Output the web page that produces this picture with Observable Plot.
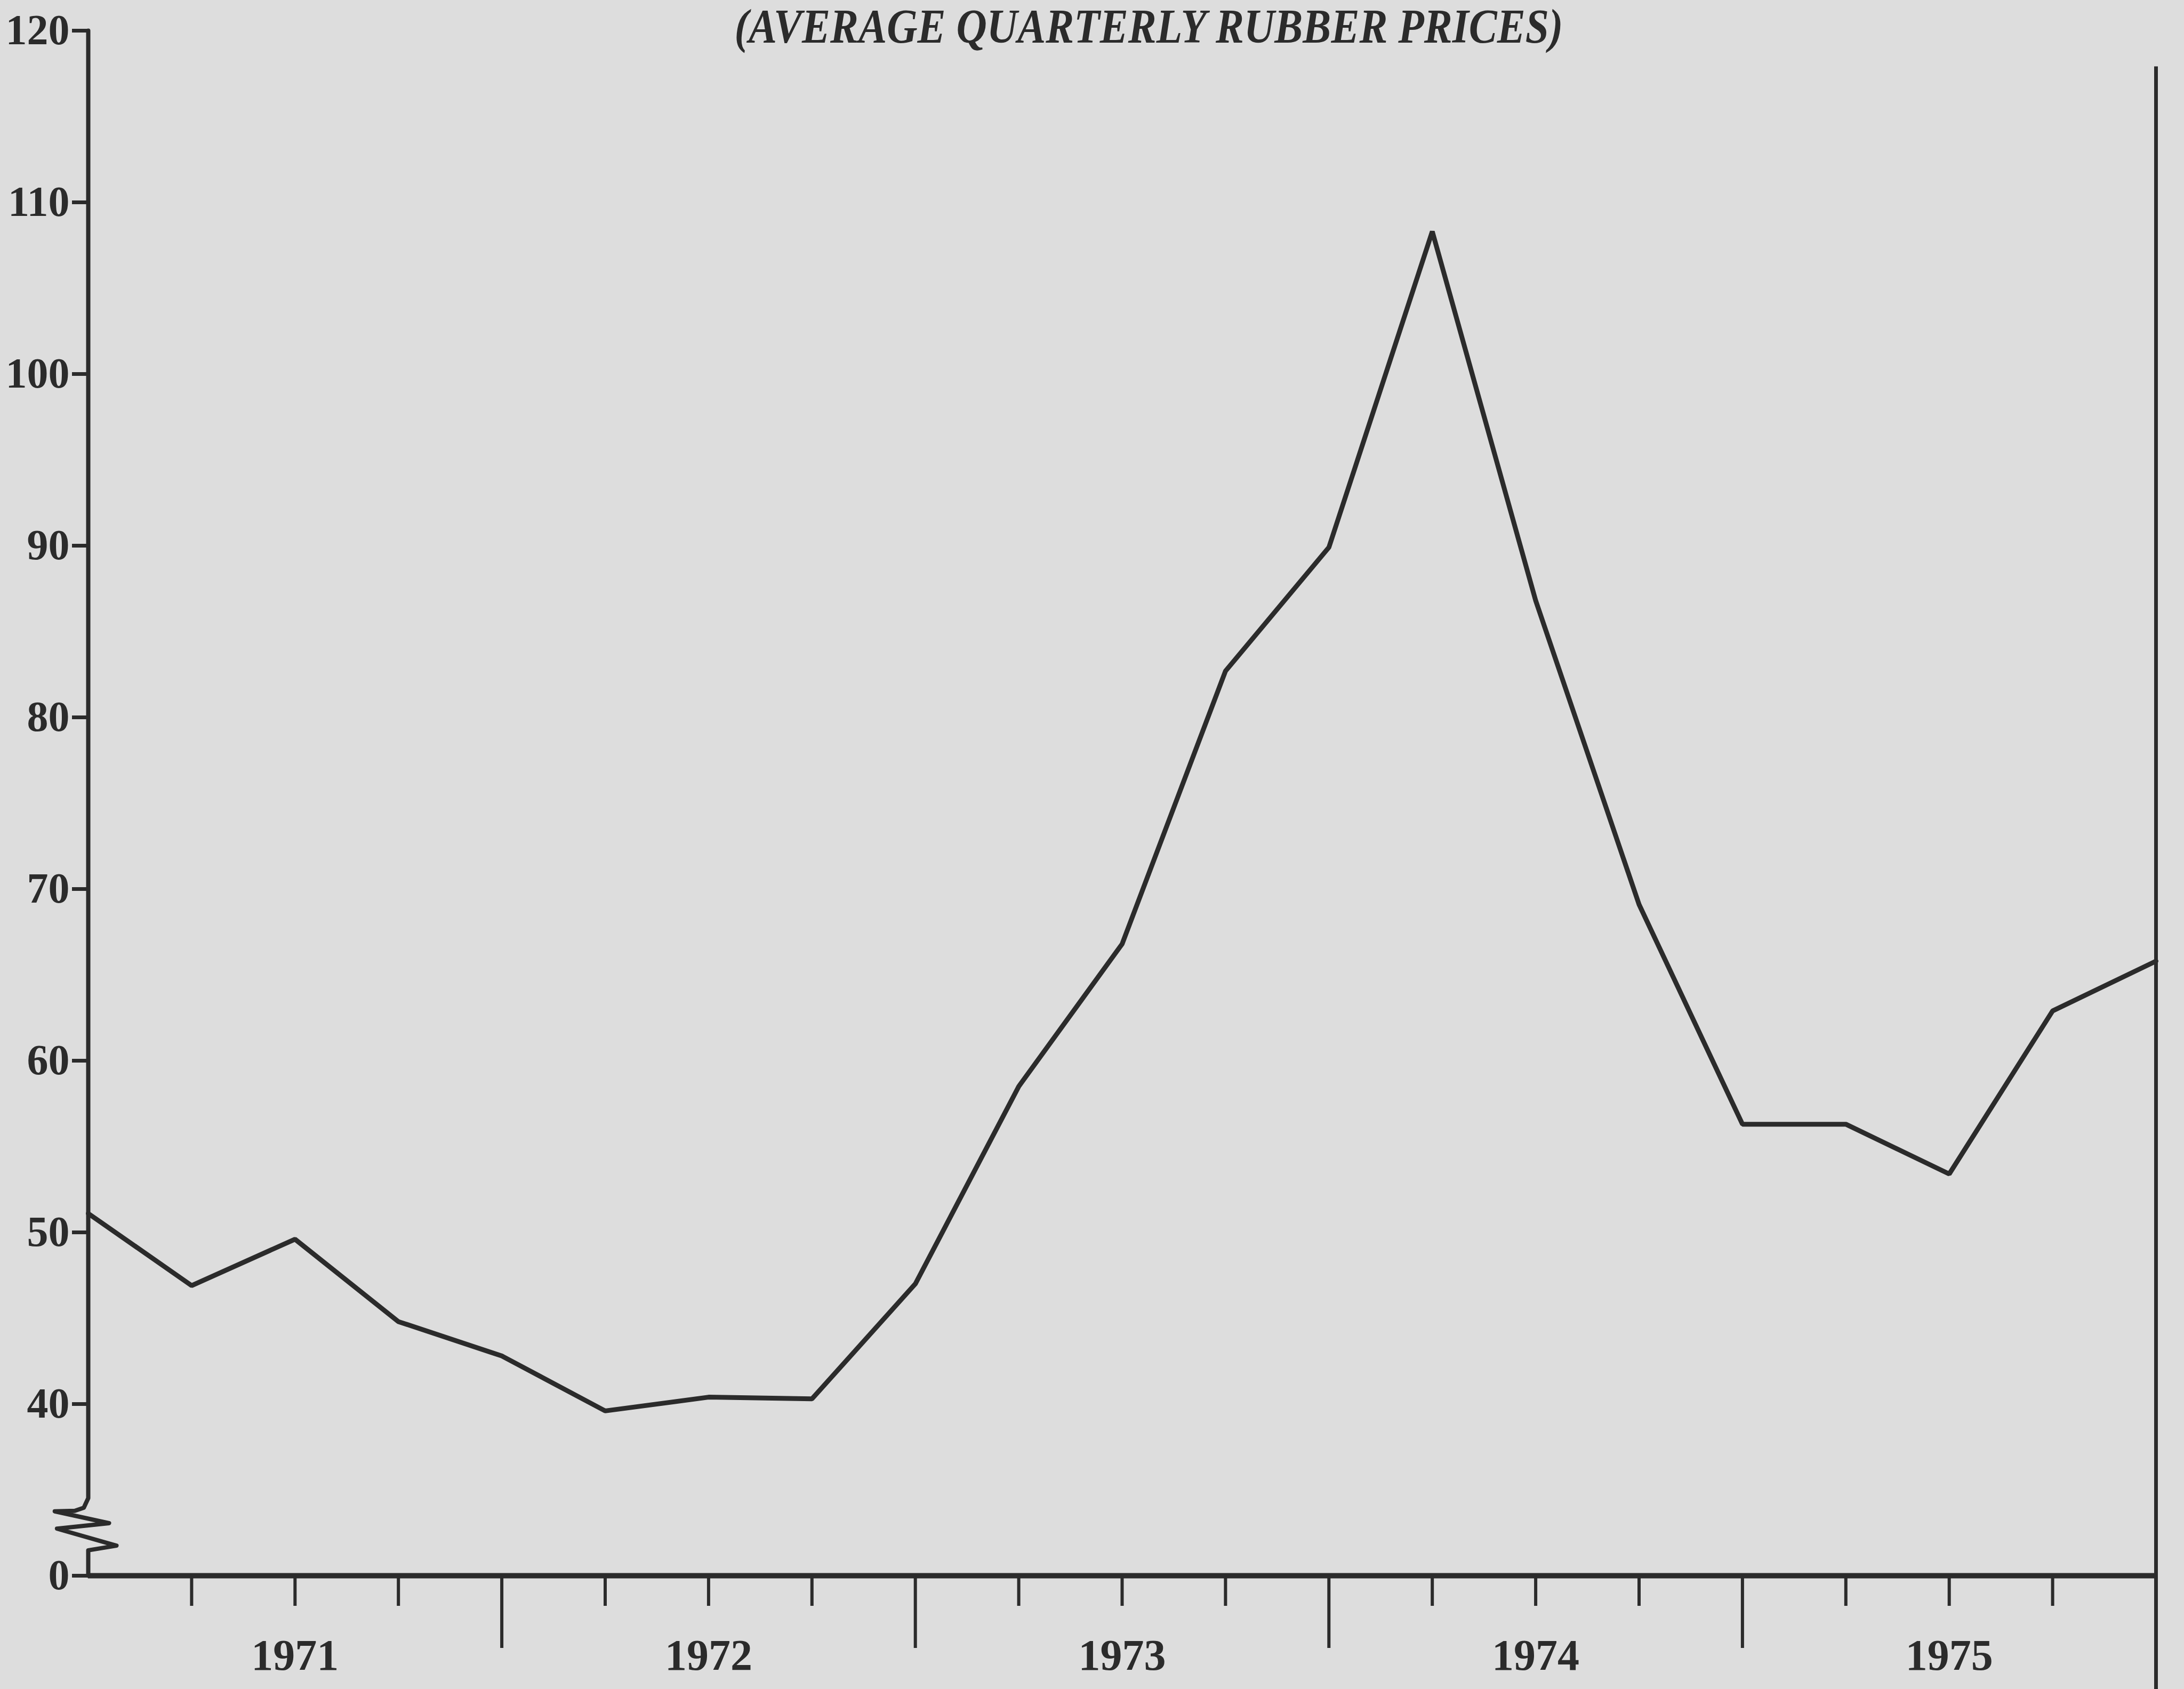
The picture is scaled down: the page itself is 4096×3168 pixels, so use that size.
<!DOCTYPE html>
<html>
<head>
<meta charset="utf-8">
<script src="https://cdn.jsdelivr.net/npm/d3@7"></script>
<script src="https://cdn.jsdelivr.net/npm/@observablehq/plot@0.6"></script>
<style>
  html, body { margin: 0; padding: 0; background: #dddddd; }
  #chart svg { display: block; }
</style>
</head>
<body>
<div id="chart"></div>
<script>
// ---- data ----
const title = "(AVERAGE QUARTERLY RUBBER PRICES)";
const quarters = [1971, 1971.25, 1971.5, 1971.75, 1972, 1972.25, 1972.5, 1972.75,
                  1973, 1973.25, 1973.5, 1973.75, 1974, 1974.25, 1974.5, 1974.75,
                  1975, 1975.25, 1975.5, 1975.75, 1976];
const prices = [51.1, 46.9, 49.6, 44.8, 42.8, 39.6, 40.4, 40.3,
                47.0, 58.5, 66.8, 82.7, 89.9, 108.3, 86.8, 69.1,
                56.3, 56.3, 53.4, 62.9, 65.8];
// the y axis is broken: the tick drawn at 30 stands for 0
const yTicks = [30, 40, 50, 60, 70, 80, 90, 100, 110, 120];
const yTickLabels = ["0", "40", "50", "60", "70", "80", "90", "100", "110", "120"];
const quarterTicks = [1971.25, 1971.5, 1971.75, 1972.25, 1972.5, 1972.75,
                      1973.25, 1973.5, 1973.75, 1974.25, 1974.5, 1974.75,
                      1975.25, 1975.5, 1975.75];
const yearTicks = [1972, 1973, 1974, 1975];
const yearLabels = ["1971", "1972", "1973", "1974", "1975"];
const yearLabelPos = [1971.5, 1972.5, 1973.5, 1974.5, 1975.5];
// y axis line with its break symbol (data units)
const axisPathX = [1971, 1971, 1970.9892, 1970.9676, 1970.919, 1971.0503, 1970.9244, 1971.0683, 1971, 1971];
const axisPathY = [120, 34.52, 33.96, 33.78, 33.75, 33.06, 32.74, 31.75, 31.48, 30];
const frameRightTop = 117.9;
const frameRightBottom = 20;

const ink = "#2b2b2b";
const paper = "#dddddd";

const chart = Plot.plot({
  width: 4096,
  height: 3168,
  marginLeft: 165,
  marginRight: 53,
  marginTop: 57,
  marginBottom: 213,
  style: {background: paper, fontFamily: "'Liberation Serif', 'DejaVu Serif', serif", fontWeight: "bold", color: ink},
  x: {domain: [1971, 1976]},
  y: {domain: [30, 120]},
  marks: [
    Plot.axisY({ticks: yTicks, tickFormat: d => yTickLabels[yTicks.indexOf(d)], tickSize: 30, tickPadding: 5,
                fontSize: 80, strokeWidth: 7, color: ink, label: null}),
    Plot.axisX({ticks: quarterTicks, tickFormat: () => "", tickSize: 57, strokeWidth: 6, color: ink, label: null}),
    Plot.axisX({ticks: yearTicks, tickFormat: () => "", tickSize: 136, strokeWidth: 6, color: ink, label: null}),
    Plot.text(yearLabels, {x: (d, i) => yearLabelPos[i], text: d => d, frameAnchor: "bottom", dy: 150,
                           lineAnchor: "middle", fontSize: 82, fill: ink}),
    Plot.ruleY([30], {x1: 1971, x2: 1976, stroke: ink, strokeWidth: 10}),
    Plot.line(axisPathY, {x: (d, i) => axisPathX[i], y: d => d, stroke: ink, strokeWidth: 8,
                          strokeLinejoin: "round", strokeLinecap: "round"}),
    Plot.ruleX([1976], {y1: frameRightBottom, y2: frameRightTop, stroke: ink, strokeWidth: 7}),
    Plot.line(prices, {x: (d, i) => quarters[i], y: d => d, stroke: ink, strokeWidth: 9, strokeLinejoin: "miter"}),
    Plot.text([title], {frameAnchor: "top", lineAnchor: "bottom", dy: 22, dx: 50, text: d => d,
                        fontSize: 90, fontStyle: "italic", fill: ink})
  ]
});

document.getElementById("chart").appendChild(chart);

// condense the title the way the printed typeface is
for (const t of chart.querySelectorAll("text")) {
  if (t.textContent === title) {
    t.setAttribute("textLength", 1554);
    t.setAttribute("lengthAdjust", "spacingAndGlyphs");
  }
}
</script>
</body>
</html>
